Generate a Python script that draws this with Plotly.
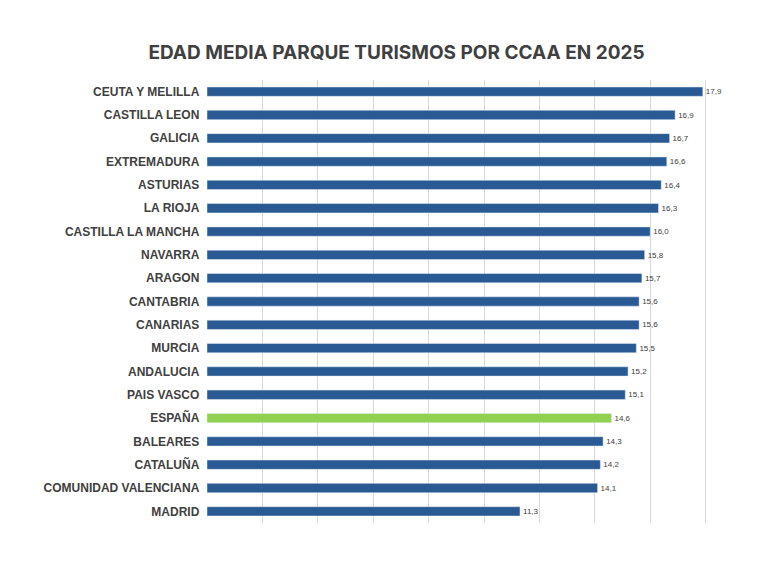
import plotly.graph_objects as go

regions = ["CEUTA Y MELILLA", "CASTILLA LEON", "GALICIA", "EXTREMADURA", "ASTURIAS",
           "LA RIOJA", "CASTILLA LA MANCHA", "NAVARRA", "ARAGON", "CANTABRIA",
           "CANARIAS", "MURCIA", "ANDALUCIA", "PAIS VASCO", "ESPAÑA", "BALEARES",
           "CATALUÑA", "COMUNIDAD VALENCIANA", "MADRID"]
ages = [17.9, 16.9, 16.7, 16.6, 16.4, 16.3, 16.0, 15.8, 15.7, 15.6,
        15.6, 15.5, 15.2, 15.1, 14.6, 14.3, 14.2, 14.1, 11.3]

colors = ["#92d050" if r == "ESPAÑA" else "#2a5a94" for r in regions]

fig = go.Figure(go.Bar(
    x=ages, y=regions, orientation="h", width=0.4,
    marker_color=colors,
    text=[f"{a:.1f}".replace(".", ",") for a in ages],
    textposition="outside", cliponaxis=False,
    textfont=dict(size=12, color="#404040"),
))

fig.update_layout(
    title=dict(text="<b>EDAD MEDIA PARQUE TURISMOS POR CCAA EN 2025</b>",
               x=0.5, xanchor="center", y=0.935,
               font=dict(size=19, color="#404040", family="Inter")),
    width=777, height=579,
    margin=dict(l=199, r=24, t=72, b=64),
    plot_bgcolor="white", paper_bgcolor="white",
    showlegend=False,
    font=dict(family="Liberation Sans", color="#404040"),
    xaxis=dict(range=[0, 20], dtick=2, showgrid=True, gridcolor="#d9d9d9",
               showticklabels=False, zeroline=False),
    yaxis=dict(autorange="reversed", tickfont=dict(size=12),
               ticksuffix="  ", showline=False),
)
fig.update_yaxes(tickprefix="<b>", ticksuffix="</b>  ")

fig.write_html("out.html")
